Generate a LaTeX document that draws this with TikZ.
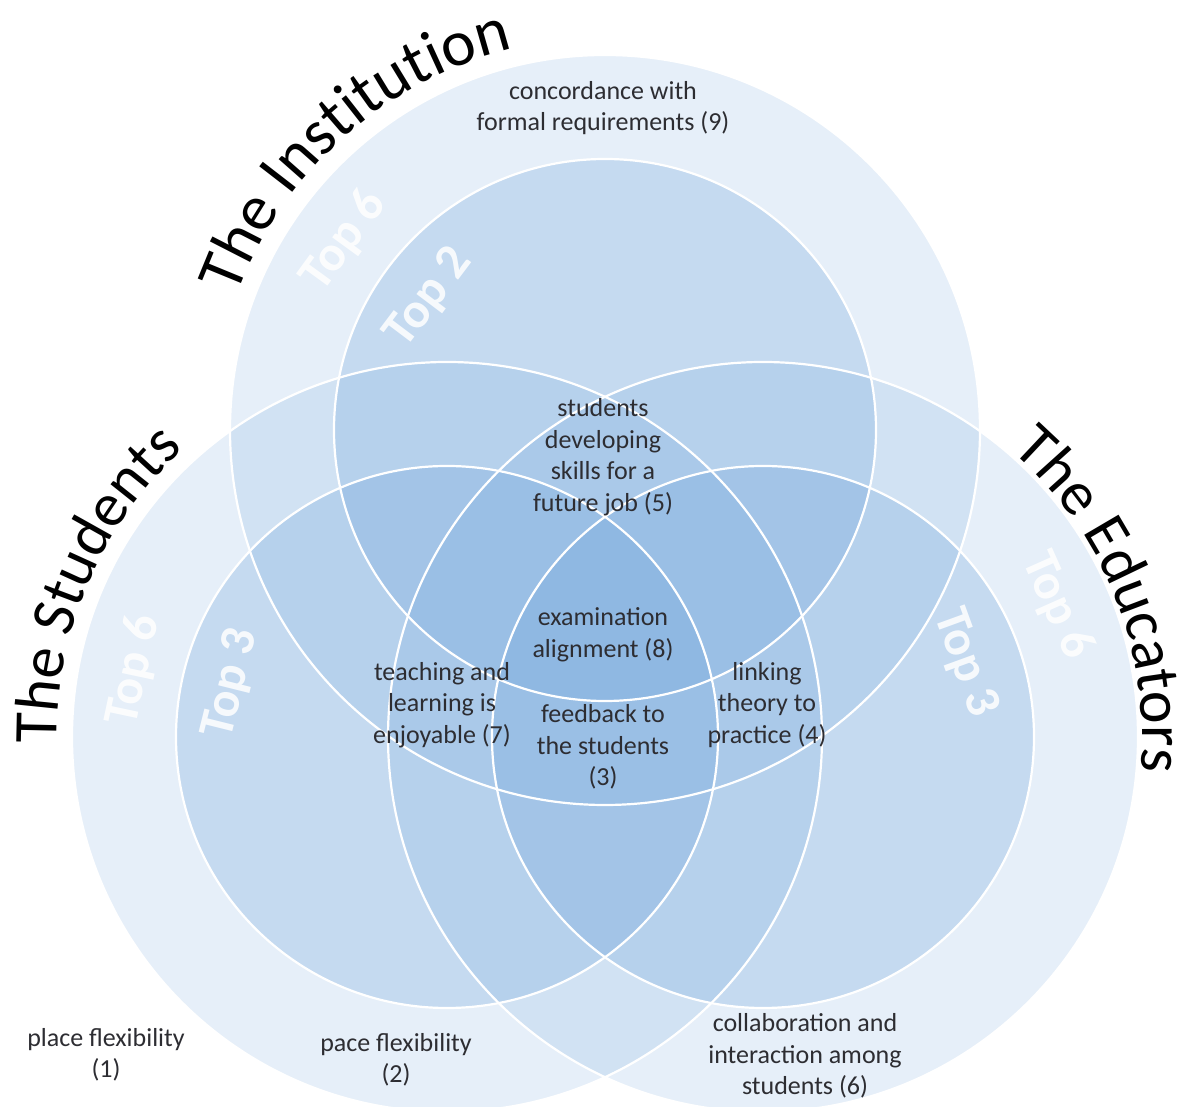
\documentclass[tikz,border=0pt]{standalone}
\usepackage{fontspec}
\setmainfont{Carlito}
\usepackage{xcolor}
\usetikzlibrary{calc,decorations.text}

\definecolor{vennblue}{RGB}{115,166,219}
\definecolor{itemgrey}{RGB}{45,45,50}
\newcommand{\setnamefont}{\fontsize{62}{62}\selectfont}
\newcommand{\bignamefont}{\fontsize{65}{65}\selectfont}

\begin{document}
\begin{tikzpicture}[x=1pt,y=1pt,
  outerring/.style={fill=vennblue,fill opacity=0.18},
  innerring/.style={fill=vennblue,fill opacity=0.285},
  rim/.style={draw=white,line width=2.2pt},
  item/.style={align=center,text=itemgrey,inner sep=0pt,font=\fontsize{26}{31.5}\selectfont},
  toplabel/.style={text=white,text opacity=0.85,inner sep=0pt,font=\fontsize{50}{50}\selectfont\bfseries},
  setname/.style={decorate,decoration={text along path,text={#1}}}]
\useasboundingbox (0,0) rectangle (1189,1106);
\coordinate (inst) at (605,676);
\coordinate (stud) at (447,369);
\coordinate (educ) at (763,369);
\foreach \c in {inst,stud,educ}{
  \fill[outerring] (\c) circle (375pt);
  \fill[innerring] (\c) circle (271pt);
}
\foreach \c in {inst,stud,educ}{
  \draw[rim] (\c) circle (375pt);
  \draw[rim] (\c) circle (271pt);
}
\path[setname={|\bignamefont|The Institution}] ([shift={(inst)}]160:392) arc[start angle=160,end angle=90,radius=392];
\path[setname={|\setnamefont|The Students}] ([shift={(stud)}]181:390) arc[start angle=181,end angle=115,radius=390];
\path[setname={|\setnamefont|The Educators}] ([shift={(educ)}]49:379) arc[start angle=49,end angle=-20,radius=379];
\node[toplabel,rotate=54] (instsix) at ($(inst)+(144:322)$) {Top 6};
\node[toplabel,rotate=53] (insttwo) at ($(inst)+(143:220)$) {Top 2};
\node[toplabel,rotate=78] (studsix) at ($(stud)+(168:320)$) {Top 6};
\node[toplabel,rotate=76] (studthree) at ($(stud)+(166:222)$) {Top 3};
\node[toplabel,rotate=-66] (educsix) at ($(educ)+(24:322)$) {Top 6};
\node[toplabel,rotate=-70] (educthree) at ($(educ)+(20:215)$) {Top 3};
\node[item] (formal) at (603,998) {concordance with\\formal requirements (9)};
\node[item] (skills) at (603,649) {students\\developing\\skills for a\\future job (5)};
\node[item] (exam) at (603,471) {examination\\alignment (8)};
\node[item] (feedback) at (603,359) {feedback to\\the students\\(3)};
\node[item] (enjoy) at (442,401) {teaching and\\learning is\\enjoyable (7)};
\node[item] (theory) at (767,401) {linking\\theory to\\practice (4)};
\node[item] (place) at (106,51) {place flexibility\\(1)};
\node[item] (pace) at (396,46) {pace flexibility\\(2)};
\node[item] (collab) at (805,50) {collaboration and\\interaction among\\students (6)};
\end{tikzpicture}
\end{document}
